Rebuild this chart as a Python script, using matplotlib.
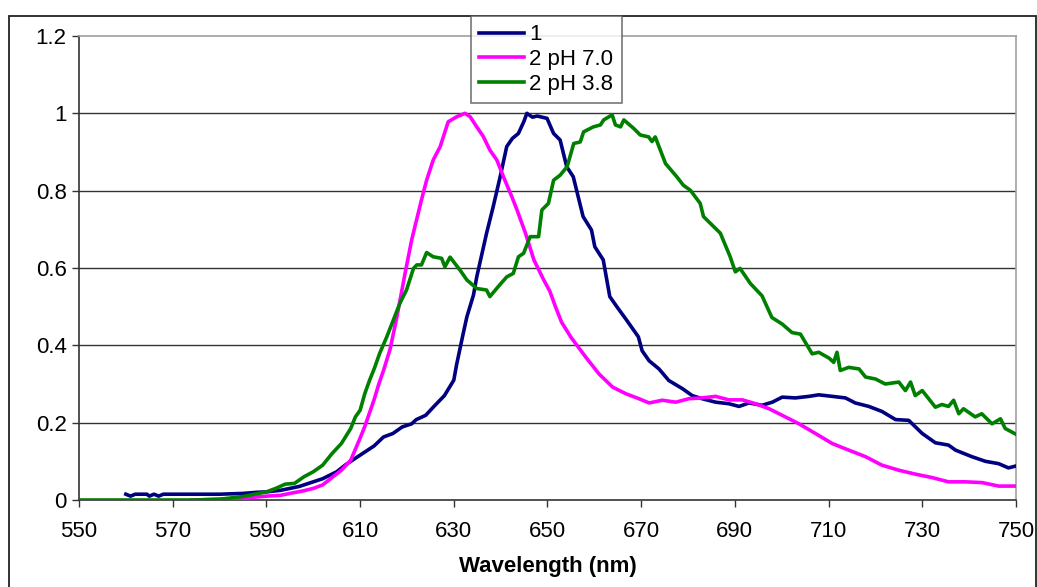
import matplotlib
matplotlib.use("Agg")
import matplotlib.pyplot as plt
from matplotlib.patches import Rectangle

# --- Data ---
wl_1 = [560, 561, 562, 564.5, 565, 566, 567, 568, 575, 580, 585, 588, 590, 593, 595, 597,
        600, 602, 605, 607, 610, 613, 615, 617, 619, 621, 622, 624, 626, 628, 630, 630.6,
        632, 632.8, 634.2, 634.9, 637, 638.4, 639.9, 641.3, 642.5, 643.8, 645, 645.6, 646.8,
        647.8, 649.9, 651.3, 652.7, 654.1, 655.5, 657.6, 659.4, 660.1, 661.9, 663.3, 664.8,
        666.9, 669.4, 670.2, 671.7, 673.8, 675.9, 678.8, 680.9, 683.0, 685.9, 688.7,
        690.9, 693.0, 695.8, 698.0, 700.1, 702.9, 705.8, 707.9, 710.8, 713.6, 715.7, 718.6,
        721.4, 724.3, 727.1, 730.0, 732.8, 735.6, 737.1, 740.6, 743.5, 746.3, 748.4, 750]
val_1 = [0.015, 0.010, 0.015, 0.015, 0.010, 0.015, 0.010, 0.015, 0.015, 0.015, 0.017, 0.020,
         0.021, 0.025, 0.030, 0.035, 0.047, 0.055, 0.073, 0.092, 0.116, 0.140, 0.163, 0.172,
         0.189, 0.197, 0.208, 0.219, 0.245, 0.270, 0.310, 0.350, 0.430, 0.474, 0.530, 0.577,
         0.690, 0.758, 0.836, 0.914, 0.935, 0.948, 0.980, 1.000, 0.990, 0.993, 0.987, 0.948,
         0.931, 0.862, 0.836, 0.733, 0.698, 0.655, 0.621, 0.526, 0.500, 0.465, 0.422, 0.386,
         0.360, 0.339, 0.309, 0.288, 0.270, 0.262, 0.253, 0.249, 0.242, 0.251,
         0.245, 0.253, 0.266, 0.264, 0.268, 0.272, 0.268, 0.264, 0.251, 0.242, 0.229, 0.208,
         0.206, 0.172, 0.148, 0.142, 0.129, 0.112, 0.100, 0.094, 0.083, 0.088]

wl_2a = [574, 580, 585, 588, 590, 593, 595, 598, 600, 602, 604, 606, 608, 610, 611, 612, 613,
         614, 615, 616.4, 617.8, 619.6, 621.0, 621.7, 623.1, 624.2, 625.6, 627.1, 628.8,
         630.6, 632.4, 633.5, 634.9, 636.3, 637.7, 639.2, 640.6, 642.4, 643.5, 645.3, 647.1,
         649.2, 650.5, 651.7, 653, 655.0, 658.2, 661.0, 663.9, 666.7, 669.5, 671.7, 674.5,
         677.4, 680.2, 683.0, 685.9, 688.7, 691.6, 694.4, 697.3, 700.1, 703.7, 707.2, 710.8,
         714.3, 717.9, 721.4, 725.0, 728.5, 732.1, 735.6, 739.2, 742.8, 746.3, 750]
val_2a = [0.0, 0.002, 0.004, 0.008, 0.010, 0.012, 0.017, 0.024, 0.030, 0.039, 0.058, 0.077,
          0.103, 0.160, 0.190, 0.225, 0.260, 0.300, 0.335, 0.390, 0.470, 0.586, 0.672, 0.707,
          0.776, 0.827, 0.879, 0.914, 0.978, 0.991, 1.000, 0.991, 0.965, 0.940, 0.905, 0.879,
          0.836, 0.784, 0.750, 0.690, 0.621, 0.569, 0.540, 0.500, 0.460, 0.421, 0.369, 0.326,
          0.292, 0.275, 0.262, 0.251, 0.258, 0.253, 0.262, 0.264, 0.268, 0.259, 0.259, 0.249,
          0.236, 0.219, 0.197, 0.172, 0.146, 0.129, 0.112, 0.090, 0.077, 0.067, 0.058, 0.047,
          0.047, 0.045, 0.036, 0.036]

wl_2b = [550, 575, 580, 585, 590, 592, 594, 596, 598, 600, 602, 604, 606, 608, 609, 610, 611,
         612, 613, 614.2, 615.7, 618.5, 619.9, 621.4, 622.1, 623.1, 624.2, 625.6, 627.4,
         628.1, 629.2, 631.3, 632.8, 634.9, 637.0, 637.7, 639.5, 641.3, 642.7, 643.8, 644.9,
         646.3, 648.1, 648.8, 650.2, 651.3, 652.7, 654.2, 655.6, 657.0, 657.7, 659.8, 661.3,
         662.0, 663.8, 664.5, 665.6, 666.3, 668.4, 669.8, 671.6, 672.3, 673.0, 675.2, 677.6,
         679.0, 680.5, 682.6, 683.3, 686.9, 689.0, 690.1, 691.1, 693.3, 695.8, 697.9, 700.1,
         702.2, 704.0, 706.5, 707.9, 710.1, 711.1, 711.8, 712.5, 714.3, 716.5, 717.9, 720.0,
         722.1, 725.0, 726.4, 727.5, 728.5, 730.0, 732.8, 734.2, 735.6, 736.7, 737.8, 738.8,
         741.3, 742.7, 744.9, 746.7, 747.7, 750]
val_2b = [0.0, 0.0, 0.002, 0.009, 0.021, 0.030, 0.041, 0.043, 0.060, 0.073, 0.090, 0.120,
          0.146, 0.185, 0.215, 0.232, 0.275, 0.309, 0.339, 0.380, 0.422, 0.509, 0.543, 0.599,
          0.608, 0.608, 0.640, 0.629, 0.625, 0.603, 0.628, 0.595, 0.569, 0.547, 0.543, 0.526,
          0.552, 0.577, 0.586, 0.629, 0.638, 0.681, 0.681, 0.750, 0.767, 0.827,
          0.840, 0.862, 0.922, 0.926, 0.952, 0.965, 0.970, 0.983, 0.996, 0.970, 0.965, 0.983,
          0.961, 0.944, 0.939, 0.927, 0.939, 0.870, 0.836, 0.814, 0.801, 0.767, 0.733, 0.690,
          0.629, 0.590, 0.599, 0.560, 0.528, 0.472, 0.455, 0.433, 0.429, 0.378, 0.382, 0.367,
          0.356, 0.382, 0.335, 0.343, 0.339, 0.318, 0.313, 0.300, 0.305, 0.283, 0.305, 0.270,
          0.283, 0.240, 0.247, 0.242, 0.258, 0.223, 0.236, 0.215, 0.223, 0.197, 0.210, 0.185,
          0.170]

series_labels = ["1", "2 pH 7.0", "2 pH 3.8"]
x_ticks = list(range(550, 751, 20))
y_ticks = [0, 0.2, 0.4, 0.6, 0.8, 1, 1.2]
y_tick_labels = ["0", "0.2", "0.4", "0.6", "0.8", "1", "1.2"]

plt.rcParams["font.family"] = ["Liberation Sans", "DejaVu Sans"]
fs = 16

fig = plt.figure(figsize=(10.37, 5.87), dpi=100)
ax = fig.add_axes([0.0762, 0.1482, 0.9035, 0.7905])

ax.plot(wl_1, val_1, color="#000080", lw=2.6, label=series_labels[0], zorder=3)
ax.plot(wl_2a, val_2a, color="#FF00FF", lw=2.6, label=series_labels[1], zorder=3)
ax.plot(wl_2b, val_2b, color="#008000", lw=2.6, label=series_labels[2], zorder=3)

ax.set_xlim(550, 750)
ax.set_ylim(0, 1.2)
ax.set_xticks(x_ticks)
ax.set_xticklabels([str(t) for t in x_ticks], fontsize=fs)
ax.set_yticks(y_ticks)
ax.set_yticklabels(y_tick_labels, fontsize=fs)
ax.tick_params(axis="both", direction="out", length=5, width=1, color="#333333")
ax.tick_params(axis="x", pad=10)
ax.tick_params(axis="y", pad=4)

# horizontal gridlines (not at top, top is the gray frame)
for g in y_ticks[1:-1]:
    ax.axhline(g, color="#333333", lw=1, zorder=1)

ax.spines["left"].set_color("#333333")
ax.spines["bottom"].set_color("#333333")
ax.spines["top"].set_color("#A0A0A0")
ax.spines["right"].set_color("#A0A0A0")
for s in ax.spines.values():
    s.set_linewidth(1.2)

ax.set_xlabel("Wavelength (nm)", fontsize=fs, fontweight="bold", labelpad=10)

leg = ax.legend(loc="upper left", bbox_to_anchor=(0.4184, 1.043), borderaxespad=0,
                fontsize=fs, frameon=True, fancybox=False, handlelength=2.0,
                handletextpad=0.25, labelspacing=0.17, borderpad=0.38)
leg.get_frame().set_edgecolor("#555555")
leg.get_frame().set_linewidth(1.2)

# outer chart frame
frame = Rectangle((8.5 / 1037, -0.1), (1036 - 8.5) / 1037, 0.1 + (587 - 16) / 587,
                  transform=fig.transFigure, fill=False, edgecolor="#222222", lw=1.3, zorder=-1)
fig.patches.append(frame)

fig.savefig("out.png", dpi=100)
